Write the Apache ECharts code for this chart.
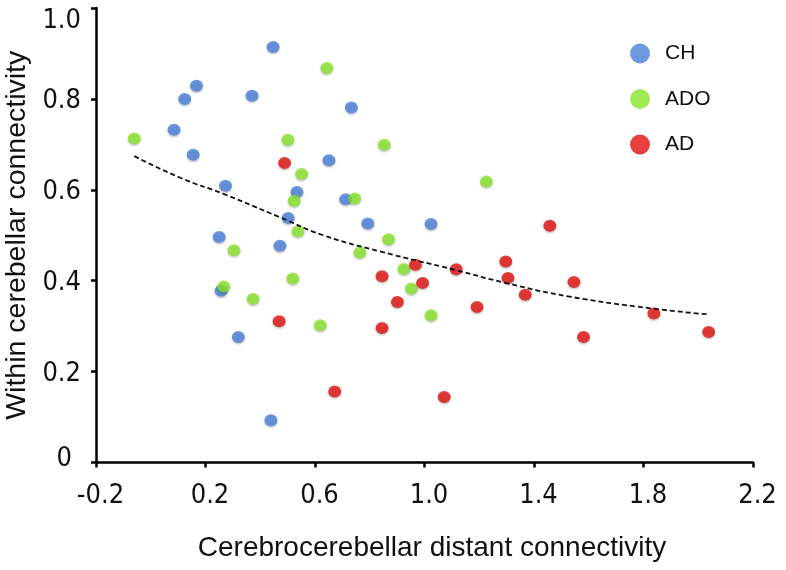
<!DOCTYPE html>
<html>
<head>
<meta charset="utf-8">
<script src="https://cdn.jsdelivr.net/npm/echarts@6/dist/echarts.min.js"></script>
<style>
html,body{margin:0;padding:0;background:#fff;}
#chart{width:786px;height:570px;}
</style>
</head>
<body>
<div id="chart"></div>
<script>
// ---- data ----
const seriesNames = ['CH', 'ADO', 'AD'];

const chData = [
  [0.447, 0.914], [0.167, 0.829], [0.124, 0.800], [0.370, 0.807], [0.085, 0.732],
  [0.155, 0.677], [0.273, 0.609], [0.733, 0.781], [0.651, 0.665], [0.534, 0.595],
  [0.712, 0.579], [0.502, 0.538], [0.793, 0.526], [1.024, 0.525], [0.250, 0.496],
  [0.472, 0.477], [0.257, 0.378], [0.320, 0.276], [0.439, 0.093]
];

const adoData = [
  [-0.060, 0.713], [0.643, 0.868], [0.501, 0.710], [0.853, 0.699], [0.551, 0.635],
  [0.524, 0.576], [0.745, 0.581], [1.226, 0.618], [0.538, 0.509], [0.869, 0.491],
  [0.304, 0.467], [0.764, 0.462], [0.519, 0.405], [0.267, 0.387], [0.374, 0.360],
  [0.619, 0.302], [0.925, 0.426], [0.952, 0.383], [1.024, 0.324]
];

const adData = [
  [0.489, 0.659], [1.458, 0.521], [0.967, 0.435], [1.116, 0.425], [1.297, 0.442],
  [0.845, 0.410], [0.993, 0.395], [1.305, 0.406], [1.368, 0.369], [0.901, 0.353],
  [1.192, 0.342], [1.546, 0.397], [0.845, 0.296], [0.469, 0.311], [1.838, 0.328],
  [1.581, 0.276], [2.038, 0.287], [0.672, 0.156], [1.072, 0.144]
];

const trendData = [
  [-0.06, 0.674], [0.11, 0.626], [0.27, 0.590], [0.47, 0.540], [0.63, 0.500],
  [0.84, 0.464], [1.11, 0.424], [1.29, 0.396], [1.53, 0.365], [1.83, 0.339], [2.035, 0.326]
];

const xTickValues = [-0.2, 0.2, 0.6, 1.0, 1.4, 1.8, 2.2];
const xTickLabels = ['-0.2', '0.2', '0.6', '1.0', '1.4', '1.8', '2.2'];
const yTickValues = [0, 0.2, 0.4, 0.6, 0.8, 1.0];
const yTickLabels = ['0', '0.2', '0.4', '0.6', '0.8', '1.0'];

const xTitle = 'Cerebrocerebellar distant connectivity';
const yTitle = 'Within cerebellar connectivity';

// ---- styling ----
const colors = ['#4a7fda', '#88e52c', '#e1110f'];
const narrow = "'Liberation Sans Narrow', 'Arial Narrow', 'DejaVu Sans Condensed', sans-serif";
const regular = "'Liberation Sans', Arial, sans-serif";

function labelFor(values, labels, v) {
  for (let i = 0; i < values.length; i++) {
    if (Math.abs(values[i] - v) < 1e-9) return labels[i];
  }
  return '';
}

const chart = echarts.init(document.getElementById('chart'), null, {renderer: 'canvas'});

function scatter(name, data, color) {
  return {
    name: name,
    type: 'scatter',
    data: data,
    symbol: 'circle',
    symbolSize: [13, 12],
    itemStyle: {
      color: color,
      shadowColor: 'rgba(0,0,0,0.28)',
      shadowBlur: 2,
      shadowOffsetY: 1.5
    },
    emphasis: {disabled: true},
    z: 2
  };
}

const option = {
  animation: false,
  backgroundColor: '#ffffff',
  grid: {left: 96, right: 33, top: 8, bottom: 107.5, containLabel: false, outerBoundsMode: 'none'},
  legend: {
    data: seriesNames,
    orient: 'vertical',
    left: 625,
    top: 38,
    itemWidth: 20,
    itemHeight: 20,
    itemGap: 24.5,
    icon: 'circle',
    textStyle: {fontFamily: regular, fontSize: 21, color: '#111', padding: [0, 0, 0, 10]}
  },
  xAxis: {
    type: 'value',
    min: -0.2,
    max: 2.2,
    splitLine: {show: false},
    axisLine: {show: true, onZero: false, lineStyle: {color: '#000', width: 2.5}},
    axisTick: {show: true, inside: false, length: 5, customValues: xTickValues,
               lineStyle: {color: '#000', width: 2.5}},
    axisLabel: {
      customValues: xTickValues,
      margin: 20,
      fontFamily: narrow,
      fontSize: 27,
      color: '#111',
      padding: [0, 0, 0, 9],
      formatter: v => labelFor(xTickValues, xTickLabels, v)
    },
    name: xTitle,
    nameLocation: 'middle',
    nameGap: 72,
    nameTextStyle: {fontFamily: regular, fontSize: 28, color: '#111', padding: [0, 0, 0, 15]}
  },
  yAxis: {
    type: 'value',
    min: 0,
    max: 1,
    splitLine: {show: false},
    axisLine: {show: true, onZero: false, lineStyle: {color: '#000', width: 2.5}},
    axisTick: {show: true, inside: false, length: 5, customValues: yTickValues,
               lineStyle: {color: '#000', width: 2.5}},
    axisLabel: {
      customValues: yTickValues,
      margin: 15,
      fontFamily: narrow,
      fontSize: 27,
      color: '#111',
      padding: [5, 0, 0, 0],
      formatter: v => {
        const s = labelFor(yTickValues, yTickLabels, v);
        if (Math.abs(v) < 1e-9) return '{z|' + s + '}';
        if (Math.abs(v - 1) < 1e-9) return '{t|' + s + '}';
        return s;
      },
      rich: {
        z: {fontFamily: narrow, fontSize: 27, color: '#111', padding: [0, 9, 12, 0]},
        t: {fontFamily: narrow, fontSize: 27, color: '#111', padding: [20, 0, 0, 0]}
      }
    },
    name: yTitle,
    nameLocation: 'middle',
    nameGap: 64,
    nameTextStyle: {fontFamily: regular, fontSize: 28.5, color: '#111'}
  },
  series: [
    scatter(seriesNames[0], chData, colors[0]),
    scatter(seriesNames[1], adoData, colors[1]),
    scatter(seriesNames[2], adData, colors[2]),
    {
      name: 'trend',
      type: 'line',
      data: trendData,
      smooth: true,
      symbol: 'none',
      lineStyle: {color: '#111', width: 1.8, type: [5, 3]},
      emphasis: {disabled: true},
      z: 3
    }
  ]
};

chart.setOption(option);
</script>
</body>
</html>
